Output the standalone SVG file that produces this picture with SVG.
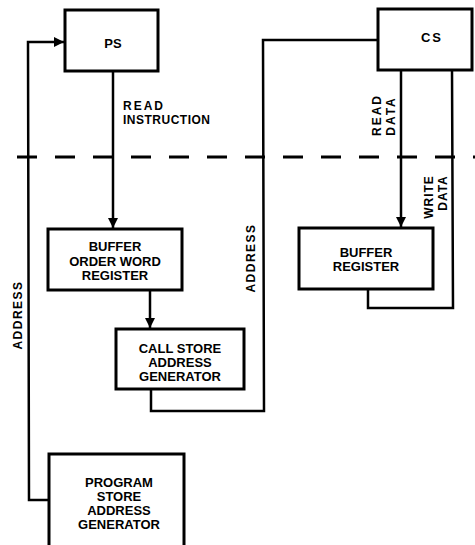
<svg xmlns="http://www.w3.org/2000/svg" width="475" height="545" viewBox="0 0 475 545">
<style>
.box{fill:#fff;stroke:#000;stroke-width:3}
.ln{fill:none;stroke:#000;stroke-width:2.5;stroke-linejoin:miter}
.t{font-family:"Liberation Sans",Arial,sans-serif;font-weight:bold;font-size:13px;fill:#000;text-anchor:middle;dominant-baseline:central}
.lb{font-family:"Liberation Sans",Arial,sans-serif;font-weight:bold;font-size:12px;fill:#000;dominant-baseline:central}
</style>
<defs>
<marker id="ah" viewBox="0 0 10 10" refX="10" refY="5" markerWidth="10" markerHeight="10" markerUnits="userSpaceOnUse" orient="auto">
<path d="M0,0 L10,5 L0,10 Z" fill="#000"/>
</marker>
</defs>
<rect width="475" height="545" fill="#fff"/>
<g id="connectors">
<line x1="17" y1="157" x2="475" y2="157" stroke="#000" stroke-width="3" stroke-dasharray="20 18"/>
<polyline class="ln" points="49,500 29,500 28,42 64,42" marker-end="url(#ah)"/>
<line class="ln" x1="113" y1="71" x2="113" y2="228" marker-end="url(#ah)"/>
<line class="ln" x1="150" y1="290" x2="150" y2="328" marker-end="url(#ah)"/>
<polyline class="ln" points="151,389 151,411 264,411 263,40 378,40"/>
<line class="ln" x1="401" y1="70" x2="401" y2="227" marker-end="url(#ah)"/>
<polyline class="ln" points="368,289 368,308 453,308 452,70"/>
<text class="lb" x="123" y="106" letter-spacing="2">READ</text>
<text class="lb" x="123" y="120" letter-spacing="0.5">INSTRUCTION</text>
<text class="lb" transform="translate(377,115) rotate(-90)" text-anchor="middle" letter-spacing="2">READ</text>
<text class="lb" transform="translate(391,116) rotate(-90)" text-anchor="middle" letter-spacing="2">DATA</text>
<text class="lb" transform="translate(429,197) rotate(-90)" text-anchor="middle" letter-spacing="1">WRITE</text>
<text class="lb" transform="translate(443,193) rotate(-90)" text-anchor="middle" letter-spacing="1">DATA</text>
<text class="lb" transform="translate(18,315) rotate(-90)" text-anchor="middle" letter-spacing="1.5">ADDRESS</text>
<text class="lb" transform="translate(251,258) rotate(-90)" text-anchor="middle" letter-spacing="1.5">ADDRESS</text>
</g>
<g id="ps">
<rect class="box" x="65" y="10" width="93" height="61"/>
<text class="t" x="113" y="43">PS</text>
</g>
<g id="cs">
<rect class="box" x="378" y="9" width="94" height="61"/>
<text class="t" x="432" y="37" letter-spacing="2">CS</text>
</g>
<g id="bowr">
<rect class="box" x="48" y="229" width="134" height="61"/>
<text class="t" x="115" y="246">BUFFER</text>
<text class="t" x="115" y="261">ORDER WORD</text>
<text class="t" x="115" y="275">REGISTER</text>
</g>
<g id="csag">
<rect class="box" x="116" y="329" width="128" height="60"/>
<text class="t" x="180" y="348">CALL STORE</text>
<text class="t" x="180" y="362">ADDRESS</text>
<text class="t" x="180" y="376">GENERATOR</text>
</g>
<g id="br">
<rect class="box" x="299" y="228" width="134" height="61"/>
<text class="t" x="366" y="252">BUFFER</text>
<text class="t" x="366" y="266">REGISTER</text>
</g>
<g id="psag">
<rect class="box" x="49" y="454" width="135" height="100"/>
<text class="t" x="119" y="482">PROGRAM</text>
<text class="t" x="119" y="496">STORE</text>
<text class="t" x="119" y="510">ADDRESS</text>
<text class="t" x="119" y="524">GENERATOR</text>
</g>
</svg>
